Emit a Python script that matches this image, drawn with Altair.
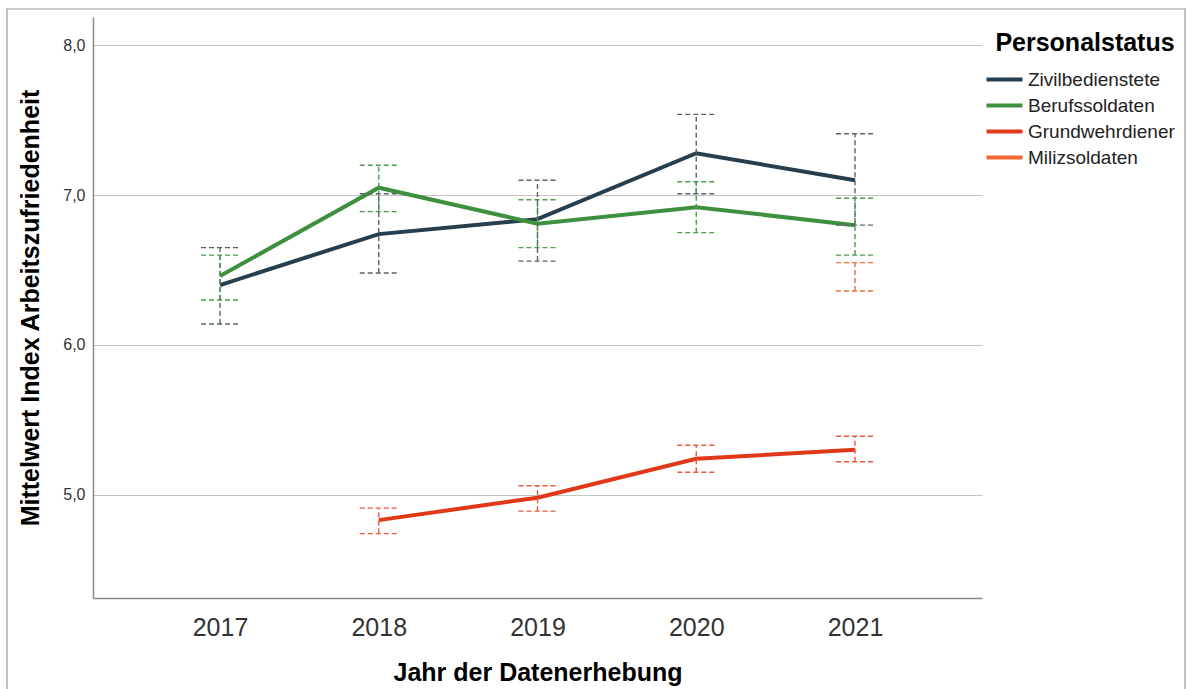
import altair as alt
import pandas as pd

# Survey years and staff groups
years = [2017, 2018, 2019, 2020, 2021]
status = ["Zivilbedienstete", "Berufssoldaten", "Grundwehrdiener", "Milizsoldaten"]

# Mean job-satisfaction index with 95% confidence limits per group
zivil_years = [2017, 2018, 2019, 2020, 2021]
zivil_mean = [6.40, 6.74, 6.84, 7.28, 7.10]
zivil_lo = [6.14, 6.48, 6.56, 7.01, 6.80]
zivil_hi = [6.65, 7.01, 7.10, 7.54, 7.41]

beruf_years = [2017, 2018, 2019, 2020, 2021]
beruf_mean = [6.46, 7.05, 6.81, 6.92, 6.80]
beruf_lo = [6.30, 6.89, 6.65, 6.75, 6.60]
beruf_hi = [6.60, 7.20, 6.97, 7.09, 6.98]

gwd_years = [2018, 2019, 2020, 2021]
gwd_mean = [4.83, 4.98, 5.24, 5.30]
gwd_lo = [4.74, 4.89, 5.15, 5.22]
gwd_hi = [4.91, 5.06, 5.33, 5.39]

miliz_years = [2021]
miliz_mean = [6.45]
miliz_lo = [6.36]
miliz_hi = [6.55]

line_colors = ["#263e4e", "#3e8f3e", "#e1381a", "#f1692e"]
bar_colors = ["#56646e", "#4c9a4c", "#e8593d", "#f27038"]

series = [
    (status[0], zivil_years, zivil_mean, zivil_lo, zivil_hi),
    (status[1], beruf_years, beruf_mean, beruf_lo, beruf_hi),
    (status[2], gwd_years, gwd_mean, gwd_lo, gwd_hi),
    (status[3], miliz_years, miliz_mean, miliz_lo, miliz_hi),
]
rows = []
for name, ys, m, lo, hi in series:
    for y, a, b, c in zip(ys, m, lo, hi):
        rows.append({"Jahr": y, "Personalstatus": name, "Mittelwert": a, "lo": b, "hi": c})
df = pd.DataFrame(rows)

FONT = "Liberation Sans"
W, H = 889, 581

x_enc = alt.X(
    "Jahr:O",
    scale=alt.Scale(type="point", domain=years, padding=0.8),
    axis=alt.Axis(
        title="Jahr der Datenerhebung",
        labelAngle=0,
        labelFontSize=25,
        labelColor="#333333",
        labelPadding=17,
        ticks=False,
        grid=False,
        domainColor="#8a8a8a",
        domainWidth=1.5,
        titleFontSize=25,
        titleFontWeight="bold",
        titleColor="#000000",
        titleBaseline="alphabetic",
        titleAlign="center",
        titleX=W / 2,
        titleY=82,
    ),
)

y_scale = alt.Scale(domain=[4.31, 8.19], nice=False, zero=False)

y_enc = alt.Y(
    "Mittelwert:Q",
    scale=y_scale,
    axis=alt.Axis(
        title="Mittelwert Index Arbeitszufriedenheit",
        values=[5, 6, 7, 8],
        labelExpr="replace(format(datum.value, '.1f'), '.', ',')",
        labelFontSize=16,
        labelColor="#333333",
        labelPadding=8,
        ticks=False,
        grid=True,
        gridColor="#c4c4c4",
        gridWidth=1.2,
        domainColor="#8a8a8a",
        domainWidth=1.5,
        titleFontSize=25,
        titleFontWeight="bold",
        titleColor="#000000",
        titleBaseline="alphabetic",
        titleAlign="center",
        titleX=-55,
        titleY=H / 2,
    ),
)

base = alt.Chart(df)

lines = base.mark_line(strokeWidth=4).encode(
    x=x_enc,
    y=y_enc,
    color=alt.Color(
        "Personalstatus:N",
        scale=alt.Scale(domain=status, range=line_colors),
        legend=alt.Legend(
            title="Personalstatus",
            orient="none",
            legendX=902,
            legendY=14,
            padding=0,
            titleFontSize=25,
            titleFontWeight="bold",
            titleColor="#000000",
            titleAnchor="middle",
            titlePadding=14,
            labelFontSize=19,
            labelColor="#222222",
            labelOffset=14,
            symbolType="M-3,0H3",
            symbolSize=144,
            symbolStrokeWidth=4,
            rowPadding=6,
        ),
    ),
    detail="Personalstatus:N",
)

bar_color = alt.Color(
    "Personalstatus:N",
    scale=alt.Scale(domain=status, range=bar_colors),
    legend=None,
)
dash = [5, 3]

whisker = base.mark_rule(strokeWidth=1.4, strokeDash=dash).encode(
    x=alt.X("Jahr:O"),
    y=alt.Y("lo:Q", scale=y_scale),
    y2="hi:Q",
    color=bar_color,
)
cap_lo = base.mark_rule(strokeWidth=1.4, strokeDash=dash, xOffset=-19, x2Offset=19).encode(
    x=alt.X("Jahr:O"),
    x2="Jahr:O",
    y=alt.Y("lo:Q", scale=y_scale),
    color=bar_color,
)
cap_hi = base.mark_rule(strokeWidth=1.4, strokeDash=dash, xOffset=-19, x2Offset=19).encode(
    x=alt.X("Jahr:O"),
    x2="Jahr:O",
    y=alt.Y("hi:Q", scale=y_scale),
    color=bar_color,
)

# thin grey frame around the whole figure
frame = alt.Chart(pd.DataFrame({"f": [0]})).mark_rect(
    fill=None, stroke="#9a9a9a", strokeWidth=1.2
).encode(
    x=alt.value(-86), x2=alt.value(1092), y=alt.value(-8), y2=alt.value(700)
)

chart = (
    alt.layer(frame, lines, whisker, cap_lo, cap_hi)
    .resolve_scale(color="independent")
    .properties(
        width=W,
        height=H,
        autosize=alt.AutoSizeParams(type="none"),
        padding={"left": 93, "top": 17, "right": 205, "bottom": 91},
        background="#ffffff",
        view=alt.ViewBackground(stroke="transparent", strokeOpacity=0, strokeWidth=0),
    )
    .configure_view(stroke="transparent", strokeWidth=0, strokeOpacity=0)
    .configure(font=FONT)
)

chart.save("out.html", embed_options={"renderer": "svg", "actions": False})
